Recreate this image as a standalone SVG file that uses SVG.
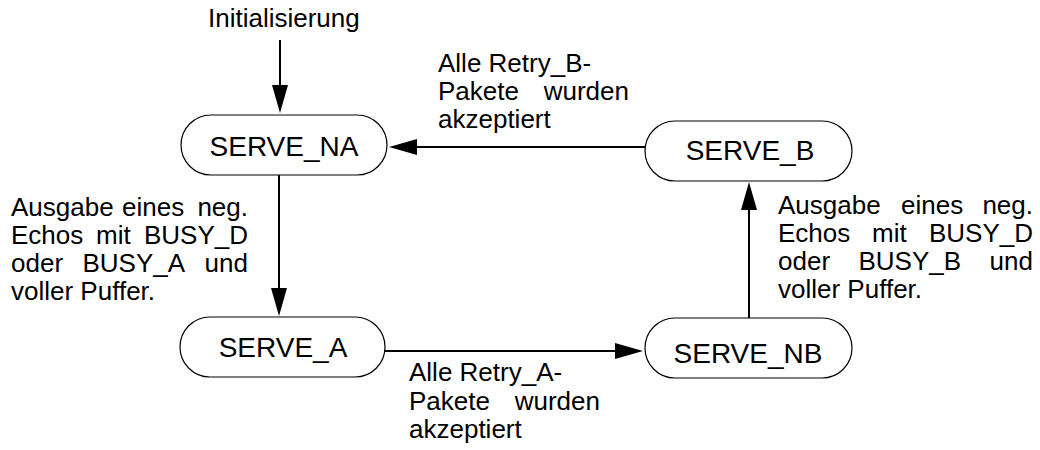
<svg xmlns="http://www.w3.org/2000/svg" width="1040" height="450" viewBox="0 0 1040 450">
  <style>
    .state { fill: #ffffff; stroke: #000000; stroke-width: 1.2; }
    .state-label { font-family: "Liberation Sans", Arial, sans-serif; font-size: 28px; fill: #000000; text-anchor: middle; }
    .note { font-family: "Liberation Sans", Arial, sans-serif; font-size: 26px; fill: #000000; }
    .note.end { text-anchor: end; }
    .edge { stroke: #000000; stroke-width: 2; fill: none; marker-end: url(#arrow); }
  </style>
  <defs>
    <marker id="arrow" markerUnits="userSpaceOnUse" markerWidth="28" markerHeight="16" refX="24" refY="8" orient="auto">
      <path d="M0,0 L28,8 L0,16 Z" fill="#000000"/>
    </marker>
  </defs>

  <rect width="1040" height="450" fill="#ffffff"/>

  <!-- transitions -->
  <g id="connectors">
    <line class="edge" x1="280" y1="40" x2="280" y2="109"/>
    <line class="edge" x1="645" y1="147" x2="393" y2="147"/>
    <line class="edge" x1="279" y1="175" x2="279" y2="312"/>
    <line class="edge" x1="385" y1="351" x2="639" y2="351"/>
    <line class="edge" x1="749" y1="318" x2="749" y2="186"/>
  </g>

  <!-- states -->
  <g id="serve-na">
    <rect class="state" x="181" y="115" width="206" height="60" rx="30" ry="30"/>
    <text class="state-label" x="284" y="156">SERVE_NA</text>
  </g>
  <g id="serve-b">
    <rect class="state" x="645" y="121" width="207" height="60" rx="30" ry="30"/>
    <text class="state-label" x="750" y="160">SERVE_B</text>
  </g>
  <g id="serve-a">
    <rect class="state" x="180" y="317" width="205" height="60" rx="30" ry="30"/>
    <text class="state-label" x="283" y="357">SERVE_A</text>
  </g>
  <g id="serve-nb">
    <rect class="state" x="645" y="318" width="207" height="60" rx="30" ry="30"/>
    <text class="state-label" x="748" y="363">SERVE_NB</text>
  </g>

  <!-- transition conditions -->
  <g id="label-init">
    <text class="note" x="208" y="27">Initialisierung</text>
  </g>

  <g id="label-retry-b">
    <text class="note" x="438" y="72">Alle Retry_B-</text>
    <text class="note" x="438" y="100">Pakete</text>
    <text class="note end" x="629" y="100">wurden</text>
    <text class="note" x="438" y="128">akzeptiert</text>
  </g>

  <g id="label-busy-a">
    <text class="note" x="11" y="216">Ausgabe</text>
    <text class="note" x="122" y="216">eines</text>
    <text class="note end" x="248" y="216">neg.</text>
    <text class="note" x="11" y="244">Echos</text>
    <text class="note" x="96" y="244">mit</text>
    <text class="note end" x="248" y="244">BUSY_D</text>
    <text class="note" x="11" y="272">oder</text>
    <text class="note" x="82.5" y="272">BUSY_A</text>
    <text class="note end" x="248" y="272">und</text>
    <text class="note" x="11" y="300">voller Puffer.</text>
  </g>

  <g id="label-busy-b">
    <text class="note" x="778" y="214">Ausgabe</text>
    <text class="note" x="901" y="214">eines</text>
    <text class="note end" x="1033" y="214">neg.</text>
    <text class="note" x="778" y="242">Echos</text>
    <text class="note" x="872" y="242">mit</text>
    <text class="note end" x="1033" y="242">BUSY_D</text>
    <text class="note" x="778" y="270">oder</text>
    <text class="note" x="858.5" y="270">BUSY_B</text>
    <text class="note end" x="1033" y="270">und</text>
    <text class="note" x="778" y="298">voller Puffer.</text>
  </g>

  <g id="label-retry-a">
    <text class="note" x="409" y="381">Alle Retry_A-</text>
    <text class="note" x="409" y="410">Pakete</text>
    <text class="note end" x="600" y="410">wurden</text>
    <text class="note" x="409" y="438">akzeptiert</text>
  </g>
</svg>
